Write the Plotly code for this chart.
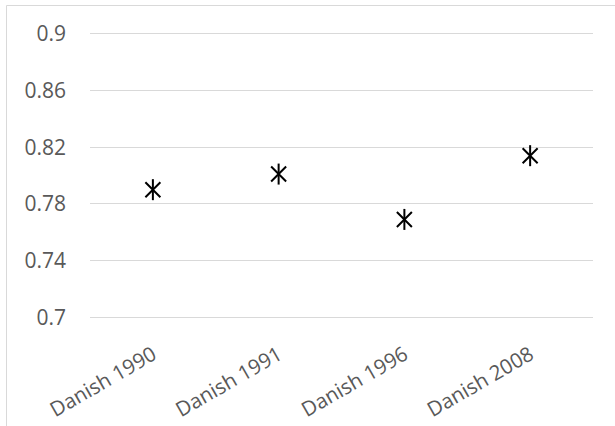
import plotly.graph_objects as go

categories = ["Danish 1990", "Danish 1991", "Danish 1996", "Danish 2008"]
values = [0.790, 0.801, 0.769, 0.814]
y_ticks = [0.7, 0.74, 0.78, 0.82, 0.86, 0.9]
y_tick_labels = ["0.7", "0.74", "0.78", "0.82", "0.86", "0.9"]

W, H = 615, 426
L, R, T, B = 90, 22, 31, 106
pw, ph = W - L - R, H - T - B
y_lo, y_hi = 0.698, 0.902

fig = go.Figure()
for sym in ["x-thin-open", "line-ns-open"]:
    fig.add_trace(go.Scatter(
        x=categories, y=values, mode="markers",
        marker=dict(symbol=sym, size=15, color="black",
                    line=dict(color="black", width=2)),
        showlegend=False, hoverinfo="x+y"))

bx = (6.5 - L) / pw
by = (H - B - 5.5) / ph
border = dict(color="#d9d9d9", width=1)
fig.add_shape(type="line", xref="paper", yref="paper", x0=bx, x1=bx, y0=-2, y1=by, line=border)
fig.add_shape(type="line", xref="paper", yref="paper", x0=bx, x1=2, y0=by, y1=by, line=border)

fig.update_layout(
    width=W, height=H,
    margin=dict(l=L, r=R, t=T, b=B, autoexpand=False),
    paper_bgcolor="white", plot_bgcolor="white",
    font=dict(family="Open Sans, sans-serif", size=21, color="#595959"),
    xaxis=dict(type="category", showgrid=False, showline=False, zeroline=False,
               ticks="", tickangle=-30, tickfont=dict(size=20.5, color="#595959"),
               ticklabelstandoff=18, range=[-0.5, 3.5], automargin=False),
    yaxis=dict(range=[y_lo, y_hi], tickvals=y_ticks, ticktext=y_tick_labels,
               showgrid=True, gridcolor="#d9d9d9", gridwidth=1,
               zeroline=False, showline=False, ticks="", automargin=False,
               ticklabelstandoff=23, tickfont=dict(size=21, color="#595959")),
)

fig.write_html("out.html", config={"displayModeBar": False})
with open("out.html", "r", encoding="utf-8") as f:
    html = f.read()
html = html.replace("<body>", '<body style="margin:0;padding:0;overflow:hidden">', 1)
with open("out.html", "w", encoding="utf-8") as f:
    f.write(html)
